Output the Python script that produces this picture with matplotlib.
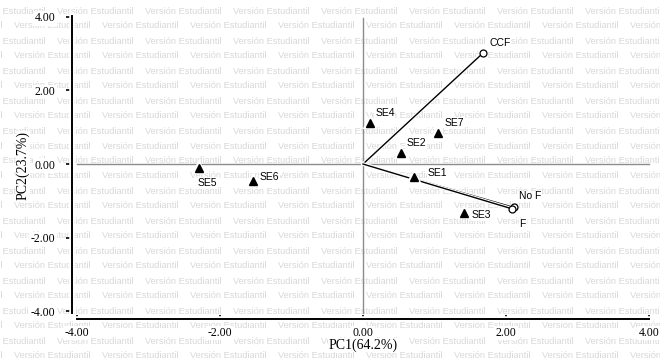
import numpy as np
import matplotlib
matplotlib.use("Agg")
import matplotlib.pyplot as plt
import matplotlib.patheffects as pe

plt.rcParams['axes.unicode_minus'] = False

# scores (triangles)
obs_names = ["SE1", "SE2", "SE3", "SE4", "SE5", "SE6", "SE7"]
obs_x = [0.71, 0.53, 1.41, 0.10, -2.29, -1.54, 1.05]
obs_y = [-0.35, 0.30, -1.33, 1.11, -0.11, -0.46, 0.84]
# label offsets in pixels
obs_off = [(14, 4), (6, 10), (8, -2), (5, 10), (-2, -15), (7, 4), (7, 10)]

# loadings (vectors)
var_names = ["CCF", "No F", "F"]
var_x = [1.68, 2.11, 2.09]
var_y = [3.02, -1.18, -1.22]
var_off = [(6, 10), (5, 11), (7, -15)]

ticks = [-4, -2, 0, 2, 4]
tick_labels = ["%.2f" % t for t in ticks]

W, H = 660, 363
fig = plt.figure(figsize=(6.6, 3.63), dpi=100)

# watermark
wm_color = '#d8d8d8'
for i, yrow in enumerate(range(11, H + 15, 15)):
    start = 57 if i % 2 == 0 else 14
    for xs in range(start - 88 * 2, W + 88, 88):
        fig.text(xs / W, 1 - yrow / H, "Versión Estudiantil", fontsize=6.7,
                 family='Liberation Sans', color=wm_color, va='center',
                 ha='left', zorder=-5)

ax = fig.add_axes([69.85 / W, (H - 318.6) / H, 586.3 / W, 309.1 / H])
ax.set_facecolor('none')
ax.set_xlim(-4.1, 4.1)
ax.set_ylim(-4.2, 4.2)

halo = [pe.withStroke(linewidth=4, foreground='white')]

for s in ['top', 'right']:
    ax.spines[s].set_visible(False)
ax.spines['left'].set_position(('data', -4.07))
ax.spines['left'].set_bounds(-4.05, 4.03)
ax.spines['bottom'].set_position(('data', -4.2))
ax.spines['bottom'].set_bounds(-4.0, 4.0)
for s in ['left', 'bottom']:
    ax.spines[s].set_linewidth(1.4)
    ax.spines[s].set_path_effects(halo)

ax.set_xticks(ticks)
ax.set_xticklabels(tick_labels)
ax.set_yticks(ticks)
ax.set_yticklabels(tick_labels)
ax.tick_params(axis='y', direction='out', length=4, width=1.2, pad=8)
ax.tick_params(axis='x', direction='in', length=3, width=1.2, pad=6)
for lab in ax.get_xticklabels() + ax.get_yticklabels():
    lab.set_family('Liberation Serif')
    lab.set_fontsize(8.5)
    lab.set_bbox(dict(facecolor='white', edgecolor='none', pad=1))

# centre cross
ax.plot([-4, 4], [0, 0], color='#8c8c8c', lw=1, zorder=1)
ax.plot([0, 0], [-4.05, 3.97], color='#8c8c8c', lw=1, zorder=1)

# vectors
for vx, vy in zip(var_x, var_y):
    ax.plot([0, vx], [0, vy], color='black', lw=1, zorder=2,
            path_effects=[pe.withStroke(linewidth=2.5, foreground='white')])
ax.plot(var_x, var_y, 'o', ls='none', mfc='white', mec='black', ms=5,
        mew=0.9, zorder=3)

ax.plot(obs_x, obs_y, '^', ls='none', color='black', ms=6, zorder=3,
        path_effects=[pe.withStroke(linewidth=3, foreground='white')])

for name, x, y, off in zip(obs_names + var_names, obs_x + var_x,
                           obs_y + var_y, obs_off + var_off):
    ax.annotate(name, (x, y), xytext=off, textcoords='offset pixels',
                ha='left', va='center', fontsize=7.5,
                family='Liberation Sans', color='black',
                bbox=dict(facecolor='white', edgecolor='none', pad=0.5))

fig.text(363 / W, 1 - 345 / H, "PC1(64.2%)", family='Liberation Serif',
         fontsize=10, ha='center', va='center',
         bbox=dict(facecolor='white', edgecolor='none', pad=0.5))
fig.text(23 / W, 1 - 166 / H, "PC2(23.7%)", family='Liberation Serif',
         fontsize=10, ha='center', va='center', rotation=90,
         bbox=dict(facecolor='white', edgecolor='none', pad=0.5))

plt.savefig("out.png", dpi=100)
